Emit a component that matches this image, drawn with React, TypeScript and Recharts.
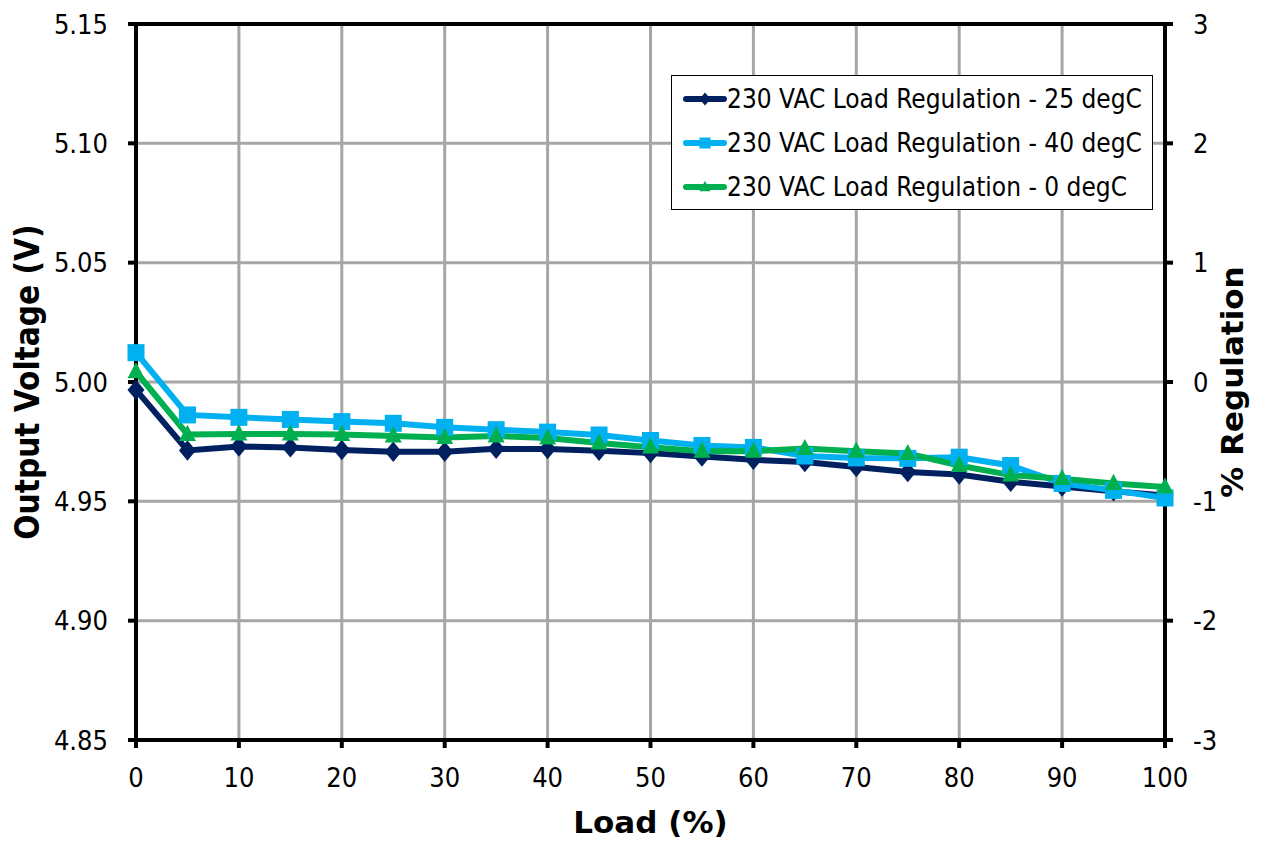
import {
  LineChart,
  Line,
  XAxis,
  YAxis,
  CartesianGrid,
  Legend,
  ReferenceLine,
} from "recharts";

// load points (%)
const loads = [0, 5, 10, 15, 20, 25, 30, 35, 40, 45, 50, 55, 60, 65, 70, 75, 80, 85, 90, 95, 100];

// output voltage (V)
const v25 = [4.9967, 4.9713, 4.973, 4.9726, 4.9715, 4.9708, 4.9708, 4.972, 4.9719, 4.9712, 4.9702, 4.9688, 4.9674, 4.9665, 4.9644, 4.9623, 4.9612, 4.9582, 4.9562, 4.9542, 4.9525];
const v40 = [5.0123, 4.9862, 4.9852, 4.9843, 4.9834, 4.9827, 4.981, 4.98, 4.979, 4.9778, 4.9755, 4.9734, 4.9726, 4.969, 4.9682, 4.968, 4.9685, 4.965, 4.9575, 4.9546, 4.9514];
const v0 = [5.0043, 4.978, 4.9782, 4.9782, 4.978, 4.9774, 4.9767, 4.9774, 4.9765, 4.9744, 4.9727, 4.971, 4.971, 4.9721, 4.971, 4.97, 4.965, 4.961, 4.9595, 4.9575, 4.956];

const xTicks = [0, 10, 20, 30, 40, 50, 60, 70, 80, 90, 100];
const voltTicks = [4.85, 4.9, 4.95, 5.0, 5.05, 5.1, 5.15];
const regTicks = [-3, -2, -1, 0, 1, 2, 3];

const FONT = '"DejaVu Sans Condensed", "DejaVu Sans", sans-serif';
const WIDE = '"DejaVu Sans", sans-serif';

const data = loads.map((load, i) => ({ load, t25: v25[i], t40: v40[i], t0: v0[i] }));

const series = [
  { key: "t25", name: "230 VAC Load Regulation - 25 degC", color: "#002060", shape: "diamond" },
  { key: "t40", name: "230 VAC Load Regulation - 40 degC", color: "#00B0F0", shape: "square" },
  { key: "t0", name: "230 VAC Load Regulation - 0 degC", color: "#00B050", shape: "triangle" },
];

function Marker({ shape, cx, cy, color, s }: any) {
  if (cx == null || cy == null) return null;
  if (shape === "square") {
    return <rect x={cx - s / 2} y={cy - s / 2} width={s} height={s} fill={color} />;
  }
  if (shape === "diamond") {
    const h = s * 0.6;
    return (
      <polygon
        points={`${cx},${cy - h} ${cx + s / 2},${cy} ${cx},${cy + h} ${cx - s / 2},${cy}`}
        fill={color}
      />
    );
  }
  const h = s * 0.95;
  return (
    <polygon
      points={`${cx},${cy - h * 0.6} ${cx + s / 2},${cy + h * 0.4} ${cx - s / 2},${cy + h * 0.4}`}
      fill={color}
    />
  );
}

function LegendBox() {
  return (
    <div
      style={{
        width: 480,
        height: 132,
        border: "1px solid #000",
        background: "#fff",
        boxSizing: "content-box",
        paddingTop: 1,
      }}
    >
      {series.map((s) => (
        <div key={s.key} style={{ display: "flex", alignItems: "center", height: 44 }}>
          <svg width={55} height={20} style={{ flex: "none" }}>
            <line x1={14} y1={10} x2={52} y2={10} stroke={s.color} strokeWidth={6} strokeLinecap="round" />
            <Marker shape={s.shape} cx={33} cy={10} color={s.color} s={11} />
          </svg>
          <span style={{ fontFamily: FONT, fontSize: 26, color: "#000", whiteSpace: "nowrap" }}>{s.name}</span>
        </div>
      ))}
    </div>
  );
}

const tickStyle = { fill: "#000", fontSize: 27, fontFamily: FONT };

export default function App() {
  return (
    <div style={{ position: "absolute", left: 0, top: 0, background: "#fff" }}>
      <LineChart
        width={1263}
        height={846}
        data={data}
        margin={{ top: 24, right: 0, bottom: 0, left: 0 }}
      >
        <CartesianGrid yAxisId="left" stroke="#A6A6A6" strokeWidth={3} />
        <XAxis
          dataKey="load"
          type="number"
          domain={[0, 100]}
          ticks={xTicks}
          interval={0}
          height={106}
          axisLine={{ stroke: "#000", strokeWidth: 4 }}
          tickLine={{ stroke: "#000", strokeWidth: 4 }}
          tickSize={8}
          tickMargin={20}
          tick={tickStyle}
          label={{
            content: ({ viewBox }: any) => (
              <text
                x={viewBox.x + viewBox.width / 2}
                y={viewBox.y + 82}
                textAnchor="middle"
                dominantBaseline="central"
                style={{ fontFamily: WIDE, fontSize: 31, fontWeight: 700, fill: "#000" }}
              >
                Load (%)
              </text>
            ),
          }}
        />
        <YAxis
          yAxisId="left"
          type="number"
          domain={[4.85, 5.15]}
          ticks={voltTicks}
          interval={0}
          width={136}
          allowDataOverflow
          axisLine={{ stroke: "#000", strokeWidth: 4 }}
          tickLine={{ stroke: "#000", strokeWidth: 4 }}
          tickSize={8}
          tickMargin={20}
          tick={tickStyle}
          tickFormatter={(v: number) => v.toFixed(2)}
          label={{
            content: ({ viewBox }: any) => {
              const x = viewBox.x + 27;
              const y = viewBox.y + viewBox.height / 2;
              return (
                <text
                  x={x}
                  y={y}
                  transform={`rotate(-90 ${x} ${y})`}
                  textAnchor="middle"
                  dominantBaseline="central"
                  style={{ fontFamily: FONT, fontSize: 33, fontWeight: 700, fill: "#000" }}
                >
                  Output Voltage (V)
                </text>
              );
            },
          }}
        />
        <YAxis
          yAxisId="right"
          orientation="right"
          type="number"
          domain={[-3, 3]}
          ticks={regTicks}
          interval={0}
          width={98}
          allowDataOverflow
          axisLine={{ stroke: "#000", strokeWidth: 4 }}
          tickLine={{ stroke: "#000", strokeWidth: 4 }}
          tickSize={8}
          tickMargin={20}
          tick={tickStyle}
          label={{
            content: ({ viewBox }: any) => {
              const x = viewBox.x + 67;
              const y = viewBox.y + viewBox.height / 2;
              return (
                <text
                  x={x}
                  y={y}
                  transform={`rotate(-90 ${x} ${y})`}
                  textAnchor="middle"
                  dominantBaseline="central"
                  style={{ fontFamily: WIDE, fontSize: 31, fontWeight: 700, fill: "#000" }}
                >
                  % Regulation
                </text>
              );
            },
          }}
        />
        <ReferenceLine yAxisId="left" y={5.15} stroke="#000" strokeWidth={4} />
        {series.map((s) => (
          <Line
            key={s.key}
            yAxisId="left"
            dataKey={s.key}
            name={s.name}
            stroke={s.color}
            strokeWidth={6}
            isAnimationActive={false}
            dot={(p: any) => (
              <Marker key={`${s.key}-${p.index}`} shape={s.shape} cx={p.cx} cy={p.cy} color={s.color} s={17} />
            )}
            activeDot={false}
          />
        ))}
        <Legend
          layout="horizontal"
          align="center"
          verticalAlign="middle"
          content={() => <LegendBox />}
          wrapperStyle={{ position: "absolute", left: 671, top: 75, width: 482, height: 134 }}
        />
      </LineChart>
    </div>
  );
}
